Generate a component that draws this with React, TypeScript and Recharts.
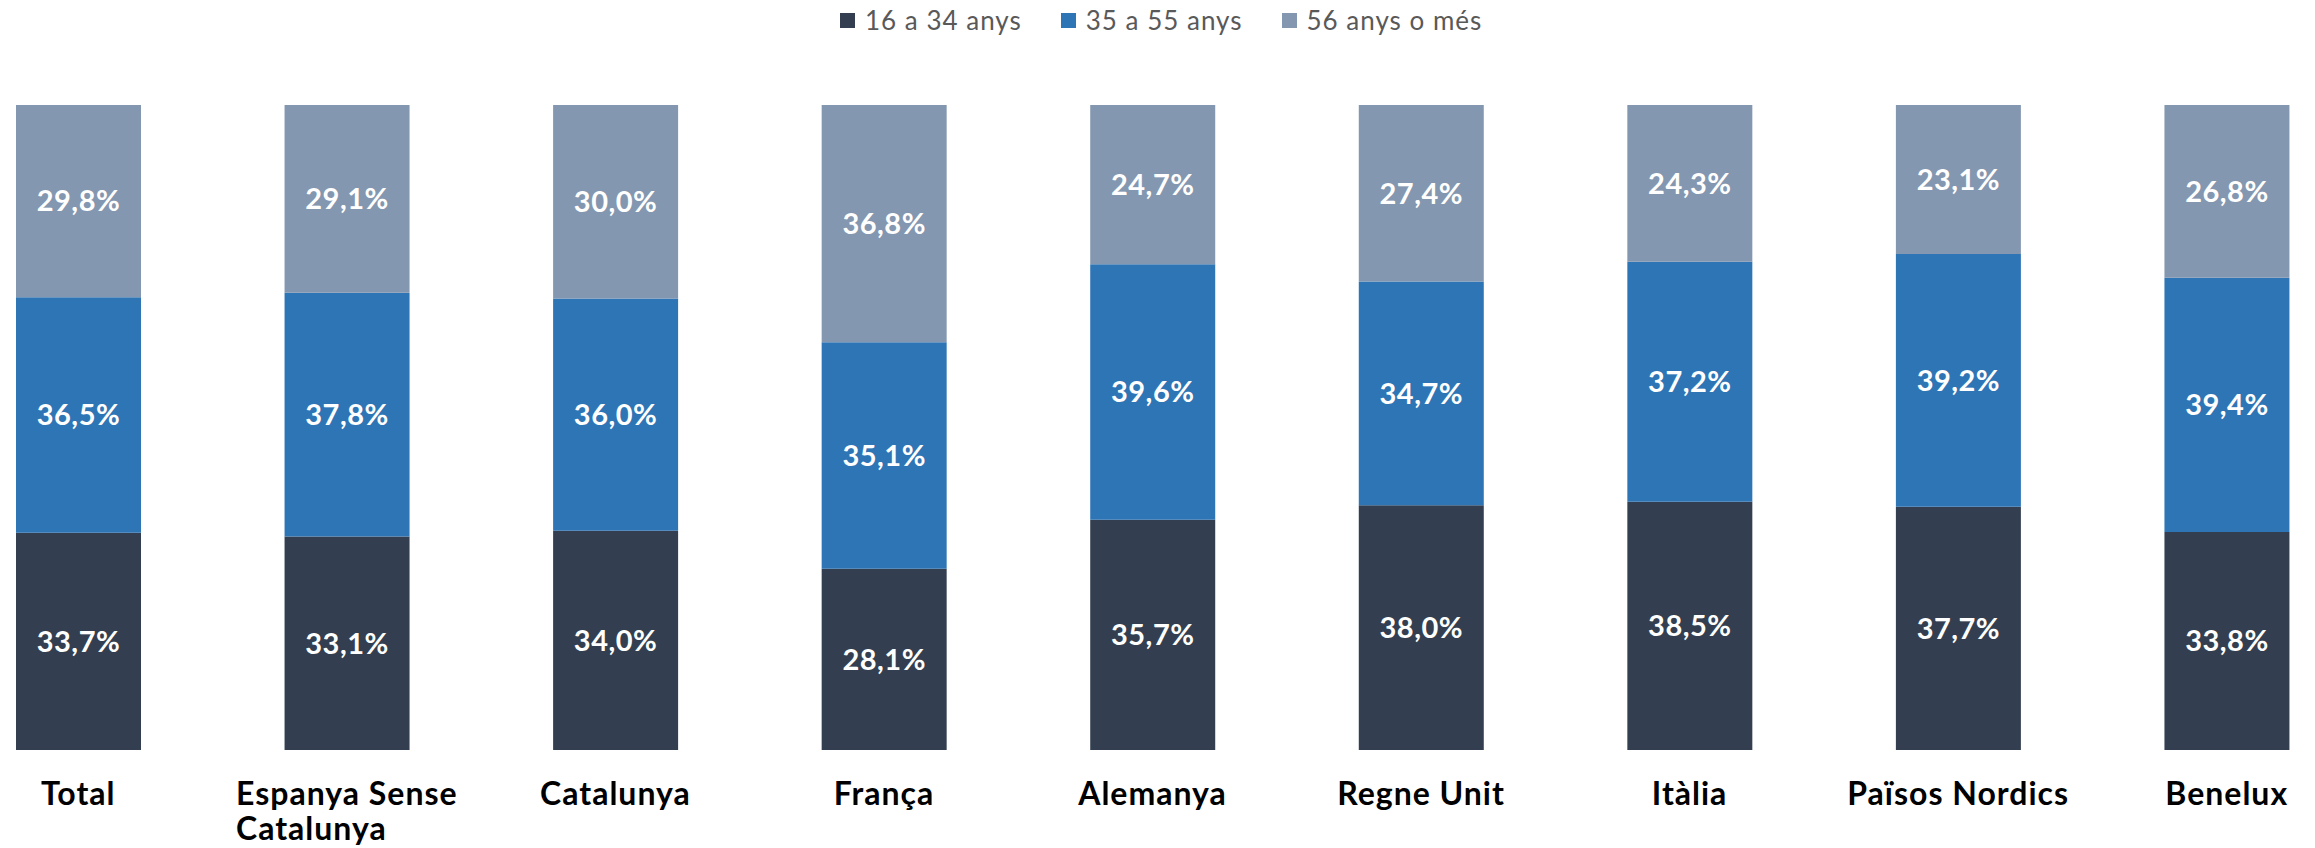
import { BarChart, Bar, XAxis, YAxis, Legend, LabelList } from 'recharts'

const categories = [
  'Total',
  'Espanya Sense Catalunya',
  'Catalunya',
  'França',
  'Alemanya',
  'Regne Unit',
  'Itàlia',
  'Països Nordics',
  'Benelux',
]
const age16to34 = [33.7, 33.1, 34.0, 28.1, 35.7, 38.0, 38.5, 37.7, 33.8]
const age35to55 = [36.5, 37.8, 36.0, 35.1, 39.6, 34.7, 37.2, 39.2, 39.4]
const age56plus = [29.8, 29.1, 30.0, 36.8, 24.7, 27.4, 24.3, 23.1, 26.8]

const seriesNames = ['16 a 34 anys', '35 a 55 anys', '56 anys o més']
const seriesColors = ['#333F50', '#2E75B6', '#8497B0']

const data = categories.map((name, i) => ({
  name,
  a: age16to34[i],
  b: age35to55[i],
  c: age56plus[i],
}))

const FONT = 'Lato, "DejaVu Sans", sans-serif'
const TICK_SIZE = 32
const TICK_SPACING = 1
const fmt = (v: number) => `${v.toFixed(1).replace('.', ',')}%`

let ctx: CanvasRenderingContext2D | null = null
function measure(s: string) {
  if (!ctx) ctx = document.createElement('canvas').getContext('2d')
  if (!ctx) return s.length * TICK_SIZE * 0.55
  ctx.font = `700 ${TICK_SIZE}px ${FONT}`
  return ctx.measureText(s).width + s.length * TICK_SPACING
}

// greedy word wrap, lines left aligned inside a centred block (like Excel)
function wrap(label: string, maxW: number) {
  const lines: string[] = []
  let cur = ''
  for (const w of label.split(' ')) {
    const next = cur ? `${cur} ${w}` : w
    if (cur && measure(next) > maxW) {
      lines.push(cur)
      cur = w
    } else cur = next
  }
  if (cur) lines.push(cur)
  return lines
}

function CategoryTick({ x, y, payload }: any) {
  const lines = wrap(payload.value, 240)
  const blockW = Math.max(...lines.map(measure))
  return (
    <text
      x={x - blockW / 2}
      y={y + 55}
      textAnchor="start"
      fill="#000"
      style={{ fontFamily: FONT, fontSize: TICK_SIZE, fontWeight: 700, letterSpacing: TICK_SPACING }}
    >
      {lines.map((l, i) => (
        <tspan key={i} x={x - blockW / 2} dy={i === 0 ? 0 : 35}>
          {l}
        </tspan>
      ))}
    </text>
  )
}

function LegendBox({ payload }: any) {
  return (
    <div
      style={{
        display: 'flex',
        height: 40,
        alignItems: 'center',
        fontFamily: FONT,
        fontSize: 26,
        letterSpacing: 1,
        color: '#595959',
        whiteSpace: 'nowrap',
      }}
    >
      {(payload || []).map((p: any, i: number) => (
        <div key={i} style={{ display: 'flex', alignItems: 'center', marginRight: 39 }}>
          <span style={{ display: 'inline-block', width: 15, height: 15, background: p.color, marginRight: 10 }} />
          <span>{p.value}</span>
        </div>
      ))}
    </div>
  )
}

export default function App() {
  return (
    <div style={{ position: 'absolute', left: 0, top: 0, width: 2315, height: 848, overflow: 'hidden', background: '#fff' }}>
      <div style={{ marginLeft: -56 }}>
        <BarChart
          width={2417}
          height={848}
          data={data}
          stackOffset="expand"
          margin={{ top: 105, right: 0, bottom: 0, left: 0 }}
        >
          <XAxis
            dataKey="name"
            axisLine={false}
            tickLine={false}
            tickSize={0}
            tickMargin={0}
            height={98}
            interval={0}
            tick={<CategoryTick />}
          />
          <YAxis hide domain={[0, 1]} />
          <Legend
            verticalAlign="middle"
            layout="horizontal"
            wrapperStyle={{ top: 0, left: 896, width: 'auto' }}
            content={<LegendBox />}
          />
          {(['a', 'b', 'c'] as const).map((key, i) => (
            <Bar
              key={key}
              dataKey={key}
              name={seriesNames[i]}
              stackId="s"
              fill={seriesColors[i]}
              barSize={125}
              isAnimationActive={false}
            >
              <LabelList
                dataKey={key}
                position="center"
                formatter={(v: any) => fmt(Number(v))}
                fill="#fff"
                style={{ fontFamily: FONT, fontSize: 29, fontWeight: 700, letterSpacing: 0.5 }}
              />
            </Bar>
          ))}
        </BarChart>
      </div>
    </div>
  )
}
